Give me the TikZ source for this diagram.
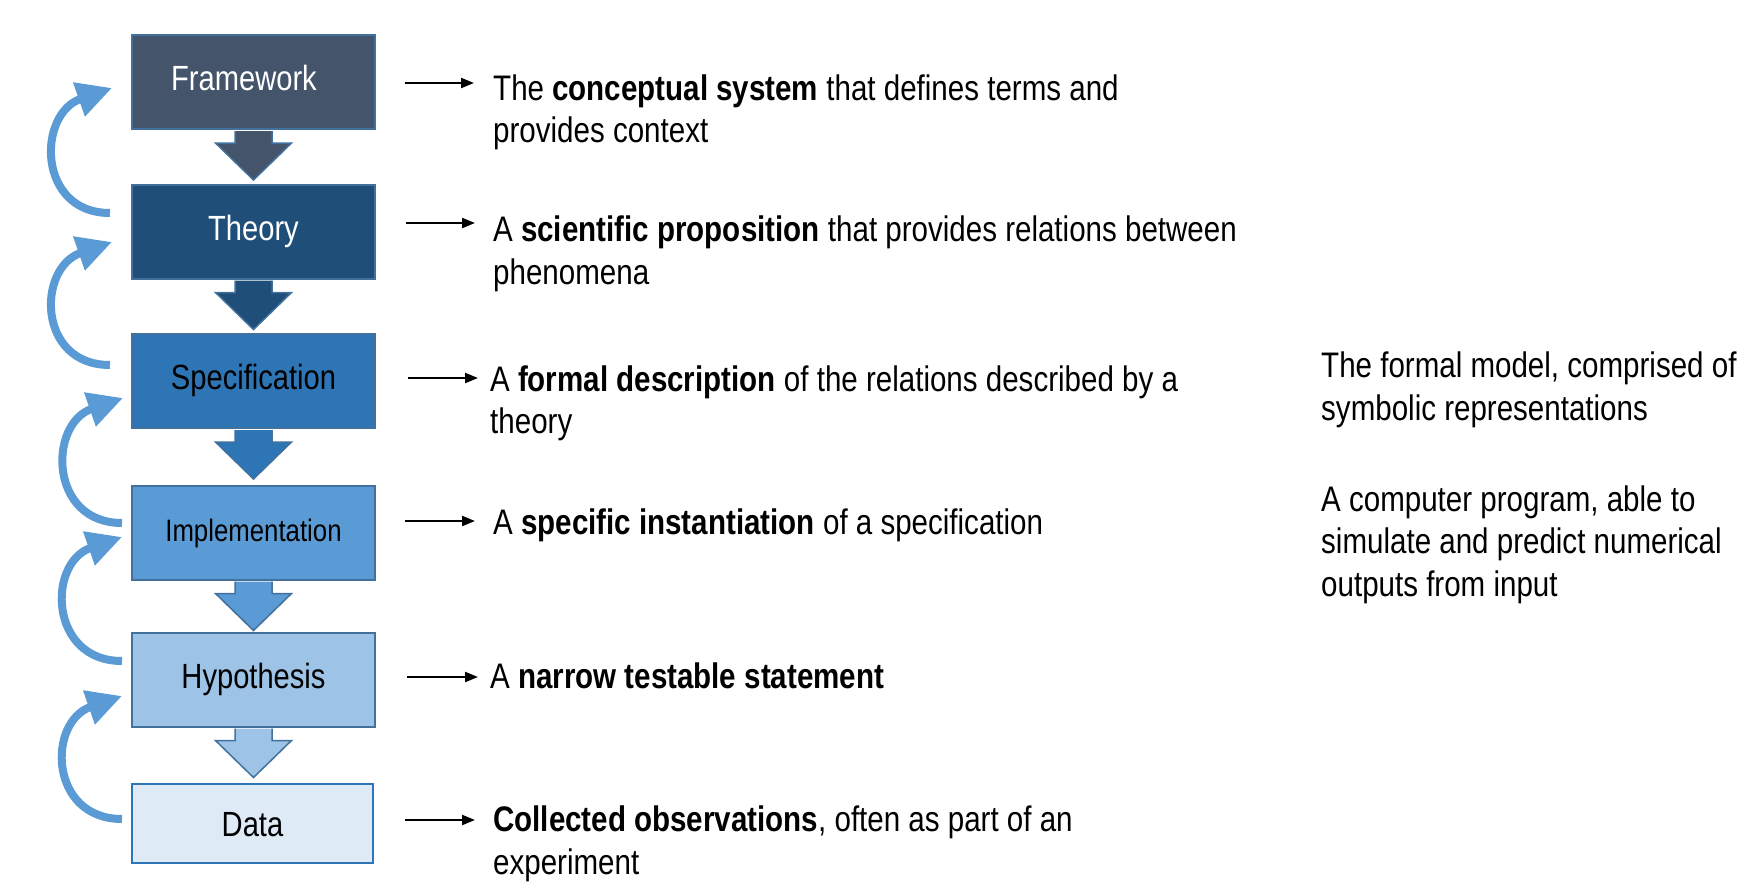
\documentclass[tikz,border=0pt]{standalone}
\usepackage{fontspec}
\setmainfont[FakeStretch=0.832]{Liberation Sans}
\usetikzlibrary{arrows.meta,calc}
\definecolor{cfw}{HTML}{44546A}
\definecolor{cth}{HTML}{1F4E79}
\definecolor{csp}{HTML}{2E75B6}
\definecolor{cim}{HTML}{5B9BD5}
\definecolor{chy}{HTML}{9DC3E6}
\definecolor{cda}{HTML}{DEEBF7}
\definecolor{cbord}{HTML}{41719C}
\definecolor{ccurve}{HTML}{5B9BD5}
\newcommand{\dnarrow}[2]{%
  \filldraw[draw=cbord, line width=1.5pt, fill=#2, line join=miter]
    ($(#1.south)+(-18.5,1)$) -- ($(#1.south)+(-18.5,13)$) -- ($(#1.south)+(-38,13)$)
    -- ($(#1.south)+(0,50)$) -- ($(#1.south)+(38,13)$) -- ($(#1.south)+(18.5,13)$)
    -- ($(#1.south)+(18.5,1)$);}
\begin{document}
\begin{tikzpicture}[x=1pt,y=-1pt,
  boxst/.style={draw=cbord, line width=2pt, minimum width=243pt, minimum height=94pt,
    inner sep=0pt, text height=21pt, text depth=4pt, font=\fontsize{35}{42}\selectfont},
  desc/.style={anchor=base west, align=left, inner sep=0pt, font=\fontsize{35.5}{42.5}\selectfont},
  harr/.style={line width=2.2pt, -{Triangle[length=13pt,width=10pt]}},
  loopy/.style={draw=ccurve, line width=8pt, -{Triangle[length=35pt,width=34pt]}},
]
\useasboundingbox[fill=white] (0,0) rectangle (1761,894);

% boxes
\node[boxst, fill=cfw, text=white] (fw) at (253.5,82) {Framework\hspace*{19pt}};
\node[boxst, fill=cth, text=white] (th) at (253.5,231.5) {Theory};
\node[boxst, fill=csp, text=black] (sp) at (253.5,381) {Specification};
\node[boxst, fill=cim, text=black, font=\fontsize{31}{38}\selectfont] (im) at (253.5,532.5) {Implementation};
\node[boxst, fill=chy, text=black] (hy) at (253.5,679.5) {Hypothesis};
\node[boxst, fill=cda, draw=csp, text=black, minimum width=241pt, minimum height=79pt] (da) at (252.5,823.5) {\raisebox{-4pt}{Data}};

% down arrows
\dnarrow{fw}{cfw}
\dnarrow{th}{cth}
\dnarrow{sp}{csp}
\dnarrow{im}{cim}
\dnarrow{hy}{chy}

% curved feedback arrows
\coordinate (c1s) at (110,213); \coordinate (c1e) at (112,88);
\coordinate (c2s) at (110,365); \coordinate (c2e) at (112,242);
\coordinate (c3s) at (122,523); \coordinate (c3e) at (123,398);
\coordinate (c4s) at (122,661); \coordinate (c4e) at (122,537);
\coordinate (c5s) at (122,819); \coordinate (c5e) at (122,696);
\foreach \i in {1,...,5}{
  \draw[loopy] (c\i s) .. controls +(-73,0) and +(-75,26) .. (c\i e);
}

% descriptions (anchor = baseline of the last line)
\node[desc] (d1) at (493,142.5) {The \textbf{conceptual system} that defines terms and\\provides context};
\node[desc] (d2) at (493,284) {A \textbf{scientific proposition} that provides relations between\\phenomena};
\node[desc] (d3) at (490,433.5) {A \textbf{formal description} of the relations described by a\\theory};
\node[desc] (d4) at (493,534) {A \textbf{specific instantiation} of a specification};
\node[desc] (d5) at (490,688.5) {A \textbf{narrow testable statement}};
\node[desc] (d6) at (493,874) {\textbf{Collected observations}, often as part of an\\experiment};

\node[desc] (r1) at (1321,420) {The formal model, comprised of\\symbolic representations};
\node[desc] (r2) at (1321,596) {A computer program, able to\\simulate and predict numerical\\outputs from input};

% horizontal arrows
\coordinate (a1s) at (405,83);  \coordinate (a1e) at (474,83);
\coordinate (a2s) at (406,223); \coordinate (a2e) at (475,223);
\coordinate (a3s) at (408,378); \coordinate (a3e) at (478,378);
\coordinate (a4s) at (405,521); \coordinate (a4e) at (475,521);
\coordinate (a5s) at (407,677); \coordinate (a5e) at (478,677);
\coordinate (a6s) at (405,820); \coordinate (a6e) at (475,820);
\foreach \i in {1,...,6}{
  \draw[harr] (a\i s) -- (a\i e);
}
\end{tikzpicture}
\end{document}
